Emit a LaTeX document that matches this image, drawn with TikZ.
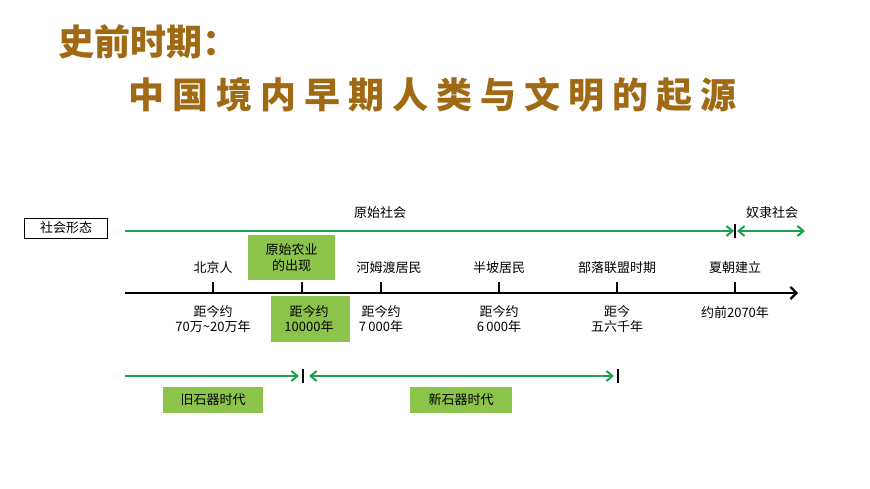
\documentclass[tikz,border=0pt]{standalone}
\usepackage{fontspec}
\setmainfont{Noto Sans CJK SC}
\usetikzlibrary{arrows.meta}
\definecolor{ttl}{RGB}{160,105,20}
\definecolor{gl}{RGB}{30,160,80}
\definecolor{gb}{RGB}{140,195,75}
\tikzset{
 t/.style={font=\fontsize{13}{15}\selectfont, inner sep=1pt, align=center},
 gbox/.style={fill=gb, font=\fontsize{13}{16}\selectfont, align=center, inner sep=0pt},
 gar/.style={draw=gl, line width=2pt, -{Straight Barb[length=6pt,width=10pt]}},
 gdar/.style={draw=gl, line width=2pt, {Straight Barb[length=6pt,width=10pt]}-{Straight Barb[length=6pt,width=10pt]}},
 tk/.style={line width=2pt}
}
\begin{document}
\begin{tikzpicture}[x=1pt,y=-1pt]
\useasboundingbox (0,0) rectangle (870,489);
\node[anchor=west, text=ttl, font=\fontsize{36}{38}\selectfont\bfseries] (t1) at (55,42) {史前时期：};
\node[anchor=west, text=ttl, font=\fontsize{36}{38}\selectfont\bfseries] (t2) at (125,95) {中\hspace{8pt}国\hspace{8pt}境\hspace{8pt}内\hspace{8pt}早\hspace{8pt}期\hspace{8pt}人\hspace{8pt}类\hspace{8pt}与\hspace{8pt}文\hspace{8pt}明\hspace{8pt}的\hspace{8pt}起\hspace{8pt}源};
\node[draw, minimum width=83pt, minimum height=20pt, t] (sh) at (66,228) {社会形态};
% top line
\coordinate (a0) at (125,231); \coordinate (a1) at (734,231);
\coordinate (a2) at (737,231); \coordinate (a3) at (805,231);
\draw[gar] (a0) -- (a1);
\draw[tk] (735,224) -- (735,238);
\draw[gdar] (a2) -- (a3);
\node[t] (ys) at (380,213) {原始社会};
\node[t] (ns) at (772,213) {奴隶社会};
% axis
\coordinate (x0) at (125,293); \coordinate (x1) at (798,293);
\draw[line width=2.2pt, -{Straight Barb[length=6pt,width=12pt]}] (x0) -- (x1);
\foreach \x in {213,302,381,499,617,735} \draw[tk] (\x,282) -- (\x,293);
\node[gbox, minimum width=87pt, minimum height=45pt] (ny) at (291.5,257.5) {原始农业\\的出现};
\node[t] (bj) at (213,268) {北京人};
\node[t] (hm) at (389,268) {河姆渡居民};
\node[t] (bp) at (499,268) {半坡居民};
\node[t] (bl) at (617,268) {部落联盟时期};
\node[t] (xc) at (735,268) {夏朝建立};
\node[gbox, minimum width=79pt, minimum height=46pt] (y2) at (310.5,319) {};
\node[t] (d1) at (213,319) {距今约\\70万\textasciitilde 20万年};
\node[t] (d2) at (309,319) {距今约\\10000年};
\node[t] (d3) at (381,319) {距今约\\7\,000年};
\node[t] (d4) at (499,319) {距今约\\6\,000年};
\node[t] (d5) at (617,319) {距今\\五六千年};
\node[t] (d6) at (735,313) {约前2070年};
% bottom
\coordinate (b0) at (125,376); \coordinate (b1) at (299,376);
\coordinate (b2) at (309,376); \coordinate (b3) at (614,376);
\draw[gar] (b0) -- (b1);
\draw[tk] (303,369) -- (303,383);
\draw[gdar] (b2) -- (b3);
\draw[tk] (618,369) -- (618,383);
\node[gbox, minimum width=100pt, minimum height=26pt] (jx) at (213,400) {旧石器时代};
\node[gbox, minimum width=102pt, minimum height=26pt] (xx) at (461,400) {新石器时代};
\end{tikzpicture}
\end{document}
